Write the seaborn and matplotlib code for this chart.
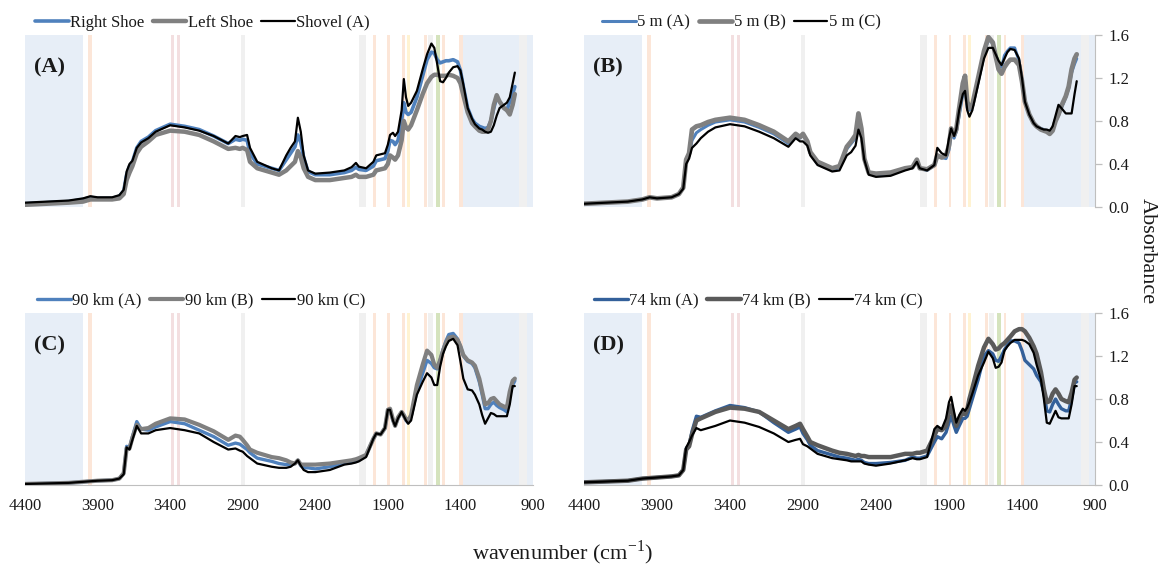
import matplotlib
matplotlib.use("Agg")
import matplotlib.pyplot as plt
import pandas as pd
import seaborn as sns

sns.set_style("white")
plt.rcParams["font.family"] = ["Liberation Serif", "DejaVu Serif"]
plt.rcParams["mathtext.fontset"] = "custom"
plt.rcParams["mathtext.rm"] = "Liberation Serif"
plt.rcParams["lines.solid_joinstyle"] = "round"
plt.rcParams["lines.solid_capstyle"] = "round"

# ---------------------------------------------------------------- spectra
wavenumber = [
    4400, 4100, 4000, 3950, 3900, 3800, 3750, 3720, 3700, 3680,
    3660, 3630, 3600, 3550, 3500, 3400, 3300, 3200, 3100, 3000,
    2950, 2920, 2900, 2870, 2850, 2800, 2700, 2650, 2600, 2570,
    2540, 2520, 2500, 2480, 2450, 2400, 2300, 2200, 2150, 2120,
    2100, 2050, 2000, 1980, 1950, 1920, 1900, 1885, 1865, 1850,
    1830, 1805, 1790, 1775, 1760, 1740, 1700, 1660, 1630, 1600,
    1580, 1560, 1540, 1520, 1500, 1480, 1450, 1420, 1400, 1380,
    1350, 1320, 1300, 1270, 1250, 1230, 1210, 1190, 1170, 1150,
    1130, 1100, 1080, 1060, 1040, 1025,
]

# (A) shoes and shovel
right_shoe = [
    .03, .05, .07, .09, .08, .08, .10, .15, .30, .38,
    .42, .55, .61, .65, .71, .77, .75, .72, .66, .59,
    .63, .62, .63, .62, .50, .40, .36, .34, .44, .50,
    .56, .67, .60, .46, .33, .30, .30, .32, .34, .37,
    .35, .34, .38, .43, .44, .45, .52, .62, .61, .58,
    .62, .80, .97, .88, .86, .88, 1.02, 1.22, 1.37, 1.44,
    1.43, 1.37, 1.34, 1.35, 1.36, 1.36, 1.37, 1.35, 1.27, 1.12,
    .92, .82, .78, .75, .74, .73, .74, .80, .92, 1.02,
    .98, .92, .90, .98, 1.05, 1.12,
]
left_shoe = [
    .02, .04, .05, .07, .07, .07, .08, .12, .25, .32,
    .38, .50, .56, .61, .67, .71, .70, .67, .61, .54,
    .55, .54, .55, .53, .42, .36, .32, .30, .34, .38,
    .42, .52, .46, .36, .28, .25, .25, .27, .28, .30,
    .28, .28, .30, .34, .35, .36, .40, .48, .46, .44,
    .48, .62, .80, .74, .72, .76, .90, 1.05, 1.15, 1.21,
    1.23, 1.23, 1.22, 1.22, 1.22, 1.23, 1.22, 1.20, 1.15, 1.04,
    .88, .78, .75, .71, .70, .70, .72, .80, .95, 1.04,
    .98, .92, .90, .86, .95, 1.05,
]
shovel_a = [
    .04, .06, .08, .10, .09, .09, .11, .16, .33, .40,
    .43, .55, .60, .64, .70, .76, .74, .71, .66, .59,
    .66, .65, .66, .67, .55, .42, .36, .34, .48, .55,
    .61, .83, .70, .48, .34, .31, .32, .34, .37, .41,
    .375, .36, .42, .48, .49, .50, .58, .67, .69, .66,
    .70, .90, 1.19, 1.02, .94, .97, 1.08, 1.28, 1.42, 1.52,
    1.48, 1.33, 1.17, 1.16, 1.20, 1.25, 1.30, 1.31, 1.27, 1.14,
    .92, .82, .77, .73, .72, .70, .69, .70, .76, .85,
    .92, .95, .97, 1.02, 1.15, 1.25,
]

# (B) 5 m samples
m5_a = [
    .03, .05, .07, .09, .08, .09, .12, .18, .42, .48,
    .62, .69, .72, .76, .79, .81, .79, .74, .68, .59,
    .67, .64, .67, .60, .50, .40, .34, .37, .54, .59,
    .64, .86, .70, .45, .32, .30, .31, .35, .37, .42,
    .36, .34, .39, .47, .46, .45, .53, .68, .64, .70,
    .85, 1.05, 1.11, .92, .90, .93, 1.17, 1.42, 1.56, 1.52,
    1.42, 1.33, 1.30, 1.41, 1.45, 1.48, 1.48, 1.36, 1.18, .98,
    .86, .78, .75, .73, .72, .71, .69, .72, .80, .85,
    .92, 1.02, 1.10, 1.25, 1.33, 1.38,
]
m5_b = [
    .03, .05, .07, .09, .08, .09, .12, .18, .44, .50,
    .72, .75, .76, .79, .81, .83, .81, .76, .70, .61,
    .68, .65, .68, .61, .51, .42, .36, .38, .56, .61,
    .67, .87, .73, .45, .32, .31, .32, .36, .37, .44,
    .36, .35, .39, .48, .46, .48, .57, .73, .67, .72,
    .92, 1.15, 1.22, .98, .92, .95, 1.20, 1.45, 1.58, 1.53,
    1.40, 1.28, 1.24, 1.30, 1.34, 1.37, 1.37, 1.32, 1.17, .98,
    .86, .78, .75, .72, .71, .70, .68, .71, .80, .86,
    .94, 1.03, 1.12, 1.28, 1.38, 1.42,
]
m5_c = [
    .03, .05, .07, .09, .08, .09, .12, .17, .40, .45,
    .55, .59, .64, .70, .74, .77, .75, .70, .64, .56,
    .64, .61, .61, .57, .48, .39, .33, .34, .48, .51,
    .57, .72, .64, .44, .30, .28, .29, .34, .36, .42,
    .36, .34, .39, .55, .50, .48, .64, .73, .66, .72,
    .90, 1.05, 1.08, .90, .84, .90, 1.14, 1.38, 1.48, 1.48,
    1.42, 1.36, 1.32, 1.38, 1.44, 1.47, 1.46, 1.38, 1.20, .98,
    .86, .78, .75, .73, .72, .72, .71, .75, .85, .95,
    .92, .87, .87, .87, 1.05, 1.17,
]

# (C) 90 km samples
km90_a = [
    .01, .02, .03, .035, .04, .045, .06, .11, .36, .35,
    .45, .59, .52, .51, .54, .59, .57, .51, .45, .37,
    .39, .38, .36, .33, .30, .25, .22, .20, .19, .19,
    .20, .23, .18, .16, .16, .15, .17, .20, .21, .22,
    .23, .28, .43, .48, .47, .53, .70, .70, .60, .55,
    .62, .68, .64, .60, .58, .64, .87, 1.04, 1.16, 1.13,
    1.09, 1.08, 1.16, 1.26, 1.34, 1.40, 1.41, 1.36, 1.29, 1.20,
    1.15, 1.13, 1.09, .96, .84, .71, .71, .75, .77, .74,
    .72, .70, .68, .84, .93, .97,
]
km90_b = [
    .01, .02, .03, .035, .04, .045, .06, .11, .34, .34,
    .44, .56, .52, .53, .57, .62, .61, .56, .50, .42,
    .46, .45, .42, .37, .33, .30, .26, .25, .23, .21,
    .20, .23, .19, .19, .19, .19, .20, .22, .23, .24,
    .25, .28, .43, .48, .47, .53, .70, .71, .61, .55,
    .63, .68, .65, .61, .60, .65, .93, 1.12, 1.25, 1.21,
    1.12, 1.09, 1.16, 1.25, 1.32, 1.37, 1.38, 1.35, 1.29, 1.21,
    1.16, 1.14, 1.11, .99, .87, .75, .76, .80, .81, .78,
    .75, .73, .72, .87, .97, .99,
]
km90_c = [
    .01, .02, .03, .035, .04, .045, .06, .10, .35, .33,
    .42, .55, .48, .48, .51, .53, .51, .48, .40, .33,
    .34, .32, .31, .27, .25, .20, .17, .16, .16, .17,
    .20, .23, .18, .14, .12, .12, .14, .19, .20, .21,
    .22, .26, .43, .48, .47, .53, .70, .70, .60, .55,
    .62, .68, .64, .60, .57, .60, .84, .96, 1.04, 1.00,
    .93, .93, 1.10, 1.22, 1.29, 1.34, 1.36, 1.30, 1.15, .99,
    .89, .88, .84, .75, .65, .57, .62, .67, .66, .64,
    .64, .64, .64, .75, .92, .92,
]

# (D) 74 km samples
km74_a = [
    .025, .04, .06, .065, .07, .08, .09, .14, .34, .37,
    .50, .64, .63, .66, .69, .74, .72, .68, .58, .49,
    .52, .54, .48, .42, .37, .32, .28, .26, .25, .24,
    .23, .24, .23, .21, .20, .20, .21, .23, .26, .25,
    .25, .27, .40, .45, .43, .49, .58, .64, .55, .49,
    .55, .62, .62, .64, .71, .80, .98, 1.20, 1.25, 1.22,
    1.16, 1.15, 1.20, 1.26, 1.30, 1.34, 1.34, 1.32, 1.25, 1.16,
    1.12, 1.08, 1.02, .96, .86, .69, .68, .75, .80, .75,
    .71, .69, .69, .80, .95, .96,
]
km74_b = [
    .025, .04, .06, .065, .07, .08, .09, .14, .33, .36,
    .47, .60, .62, .65, .68, .72, .71, .68, .60, .52,
    .55, .57, .52, .45, .40, .37, .32, .30, .29, .28,
    .27, .28, .27, .27, .26, .26, .26, .29, .29, .30,
    .30, .32, .46, .52, .51, .55, .68, .74, .62, .55,
    .62, .68, .66, .70, .80, .90, 1.11, 1.28, 1.36, 1.31,
    1.26, 1.27, 1.30, 1.32, 1.35, 1.38, 1.43, 1.45, 1.45, 1.43,
    1.37, 1.29, 1.22, 1.05, .89, .77, .78, .85, .89, .85,
    .80, .78, .77, .86, .98, 1.00,
]
km74_c = [
    .025, .04, .06, .065, .07, .08, .09, .14, .35, .40,
    .46, .53, .51, .53, .55, .60, .58, .54, .48, .40,
    .42, .43, .38, .36, .34, .29, .25, .24, .23, .22,
    .22, .22, .22, .20, .19, .18, .20, .23, .25, .24,
    .24, .26, .52, .55, .52, .62, .77, .82, .68, .58,
    .65, .71, .69, .72, .77, .85, 1.02, 1.14, 1.24, 1.18,
    1.09, 1.10, 1.14, 1.25, 1.29, 1.32, 1.35, 1.35, 1.35, 1.34,
    1.31, 1.23, 1.12, .98, .80, .58, .57, .63, .69, .63,
    .62, .62, .62, .75, .92, .92,
]

# ---------------------------------------------------------------- band shading
BLUE_BG = "#e7eef7"
PEACH = "#fce6d8"
PINK = "#f3dfe0"
GREY_BG = "#f0f0f0"
GREEN = "#d5e3bd"
YELLOW = "#fff3d2"
bands = [
    (4400, 4000, BLUE_BG), (3965, 3940, PEACH), (3395, 3375, PINK),
    (3352, 3332, PINK), (2915, 2885, GREY_BG), (2100, 2050, GREY_BG),
    (2000, 1985, PEACH), (1903, 1887, PEACH), (1805, 1785, PEACH),
    (1768, 1748, YELLOW), (1652, 1632, PEACH), (1625, 1590, GREY_BG),
    (1568, 1543, GREEN), (1525, 1507, PEACH), (1408, 1385, PEACH),
    (1385, 995, BLUE_BG), (995, 940, GREY_BG), (940, 900, BLUE_BG),
]

BLUE = "#4f81bd"
GREY = "#808080"
BLACK = "#000000"
DBLUE = "#33609a"
DGREY = "#5a5a5a"

panels = [
    ("(A)", [0.0215, 0.6394, 0.4364, 0.2997], False, False,
     [("Right Shoe", right_shoe, BLUE, 2.6), ("Left Shoe", left_shoe, GREY, 3.2),
      ("Shovel (A)", shovel_a, BLACK, 1.6)], 0.012),
    ("(B)", [0.5017, 0.6394, 0.4390, 0.2997], False, True,
     [("5 m (A)", m5_a, BLUE, 2.2), ("5 m (B)", m5_b, GREY, 3.4),
      ("5 m (C)", m5_c, BLACK, 1.6)], 0.028),
    ("(C)", [0.0215, 0.155, 0.4364, 0.2997], True, False,
     [("90 km (A)", km90_a, BLUE, 2.4), ("90 km (B)", km90_b, GREY, 3.0),
      ("90 km (C)", km90_c, BLACK, 1.6)], 0.016),
    ("(D)", [0.5017, 0.155, 0.4390, 0.2997], True, True,
     [("74 km (A)", km74_a, DBLUE, 2.4), ("74 km (B)", km74_b, DGREY, 3.2),
      ("74 km (C)", km74_c, BLACK, 1.6)], 0.012),
]

AXIS_GREY = "#bfbfbf"
TEXT = "#1a1a1a"

fig = plt.figure(figsize=(11.64, 5.74), dpi=100)

for tag, rect, show_x, show_y, series, leg_x in panels:
    ax = fig.add_axes(rect)
    for lo, hi, col in bands:
        ax.axvspan(hi, lo, color=col, lw=0, zorder=0)
    for label, values, col, lw in series:
        sns.lineplot(x=wavenumber, y=values, ax=ax, color=col, linewidth=lw,
                     label=label, sort=False, estimator=None, zorder=3)

    ax.set_xlim(4400, 900)
    ax.set_ylim(0, 1.6)
    ax.set_xlabel("")
    ax.set_ylabel("")
    for side in ("top", "left", "right", "bottom"):
        ax.spines[side].set_visible(False)

    ax.set_xticks(range(4400, 899, -500))
    if show_x:
        ax.spines["bottom"].set_visible(True)
        ax.spines["bottom"].set_color(AXIS_GREY)
        ax.tick_params(axis="x", direction="out", length=5, width=0.9,
                       color=AXIS_GREY, labelsize=12, labelcolor=TEXT, pad=4)
    else:
        ax.tick_params(axis="x", bottom=False, labelbottom=False)

    ax.set_yticks([0.0, 0.4, 0.8, 1.2, 1.6])
    if show_y:
        ax.spines["right"].set_visible(True)
        ax.spines["right"].set_color(AXIS_GREY)
        ax.yaxis.tick_right()
        ax.set_yticklabels([f"{v:.1f}" for v in [0.0, 0.4, 0.8, 1.2, 1.6]])
        ax.tick_params(axis="y", direction="out", length=5, width=0.9,
                       color=AXIS_GREY, labelsize=12, labelcolor=TEXT, pad=5)
    else:
        ax.tick_params(axis="y", left=False, right=False,
                       labelleft=False, labelright=False)

    ax.text(0.018, 0.81, tag, transform=ax.transAxes, ha="left", va="center",
            fontsize=16, fontweight="bold", color=TEXT, zorder=5)

    ax.legend(loc="lower left", bbox_to_anchor=(leg_x, 1.0), ncol=3,
              frameon=False, fontsize=12, handlelength=2.0,
              handletextpad=0.1, columnspacing=0.5, borderpad=0.1,
              borderaxespad=0.15, labelcolor=TEXT)

fig.text(0.483, 0.038, r"wavenumber (cm$^{\mathrm{-1}}$)", ha="center",
         va="center", fontsize=16, color=TEXT)
fig.text(0.986, 0.563, "Absorbance", ha="center", va="center",
         rotation=270, fontsize=16, color=TEXT)

fig.savefig("out.png", dpi=100)
